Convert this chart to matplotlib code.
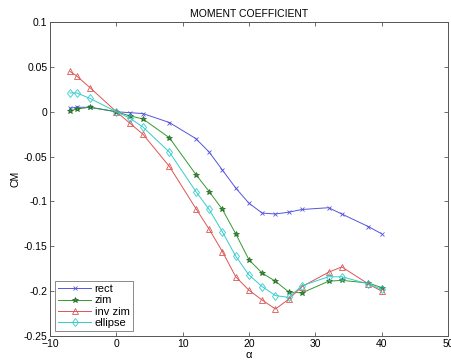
import matplotlib
matplotlib.use("Agg")
from matplotlib import pyplot as plt

plt.rcParams['font.family'] = ['Liberation Sans', 'DejaVu Sans']

# angle of attack
alpha = [-7, -6, -4, 0, 2, 4, 8, 12, 14, 16, 18, 20, 22, 24, 26, 28, 32, 34, 38, 40]

# moment coefficient per wing shape
rect = [0.004, 0.005, 0.005, 0.0, -0.001, -0.002, -0.012, -0.030, -0.045, -0.065,
        -0.085, -0.102, -0.113, -0.114, -0.112, -0.109, -0.107, -0.114, -0.128, -0.136]
zim = [0.001, 0.003, 0.005, 0.0, -0.0045, -0.008, -0.029, -0.070, -0.089, -0.109,
       -0.136, -0.165, -0.180, -0.189, -0.201, -0.202, -0.189, -0.188, -0.191, -0.196]
inv_zim = [0.045, 0.040, 0.027, 0.0, -0.0125, -0.025, -0.061, -0.108, -0.131, -0.156,
           -0.184, -0.199, -0.210, -0.220, -0.209, -0.195, -0.179, -0.173, -0.192, -0.200]
ellipse = [0.021, 0.021, 0.015, 0.0, -0.007, -0.017, -0.045, -0.089, -0.109, -0.134,
           -0.161, -0.182, -0.195, -0.205, -0.207, -0.194, -0.184, -0.184, -0.192, -0.198]

fig = plt.figure(figsize=(4.51, 3.62), dpi=100)
ax = fig.add_axes([0.111, 0.072, 0.882, 0.867])

ax.plot(alpha, rect, color='#5555dd', marker='x', ms=3.5, lw=0.7, mew=0.6, label='rect')
ax.plot(alpha, zim, color='#339933', marker='*', ms=4, lw=0.7, mew=0.5,
        mec='#226622', label='zim')
ax.plot(alpha, inv_zim, color='#dd5555', marker='^', ms=4.5, lw=0.7, mew=0.6,
        mfc='none', label='inv zim')
ax.plot(alpha, ellipse, color='#33cccc', marker='d', ms=4.5, lw=0.7, mew=0.6,
        mfc='none', label='ellipse')

ax.set_xlim(-10, 50)
ax.set_ylim(-0.25, 0.1)
ax.set_xticks([-10, 0, 10, 20, 30, 40, 50])
ax.set_yticks([-0.25, -0.2, -0.15, -0.1, -0.05, 0, 0.05, 0.1])
ax.set_yticklabels(['-0.25', '-0.2', '-0.15', '-0.1', '-0.05', '0', '0.05', '0.1'])
ax.tick_params(direction='in', top=True, right=True, labelsize=7.5, length=3,
               width=0.6, color='#555555', pad=2)
for s in ax.spines.values():
    s.set_linewidth(0.7)
    s.set_color('#555555')

ax.set_title('MOMENT COEFFICIENT', fontsize=7.5, pad=4)
ax.set_xlabel('α', fontsize=8, labelpad=1)
ax.set_ylabel('CM', fontsize=7.5, labelpad=2)

leg = ax.legend(loc='lower left', fontsize=8, frameon=True, fancybox=False,
                edgecolor='#555555', borderaxespad=0.4, handlelength=3.0,
                labelspacing=0.12, borderpad=0.3, handletextpad=0.3)
leg.get_frame().set_linewidth(0.6)

fig.savefig('out.png', dpi=100)
